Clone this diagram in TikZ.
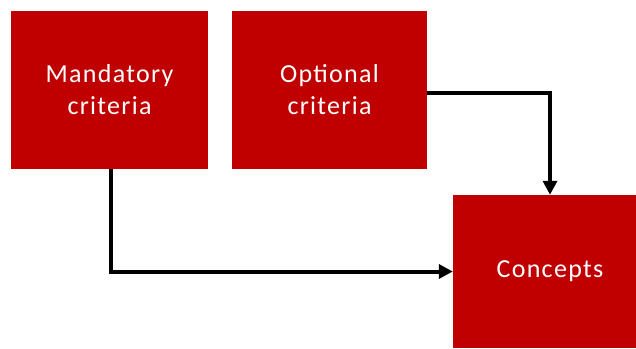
\documentclass[tikz,border=0pt]{standalone}
\usepackage{fontspec}
\setmainfont{Carlito}
\newfontfamily\boxfont[LetterSpace=5]{Carlito}
\usepackage{tikz}
\usetikzlibrary{arrows.meta, positioning}
\definecolor{boxred}{RGB}{192,0,0}

\begin{document}
\begin{tikzpicture}[x=1pt, y=-1pt,
    box/.style={fill=boxred, text=white, align=center, inner sep=0pt,
      font=\boxfont\fontsize{26}{32}\selectfont},
    conn/.style={line width=4pt, -{Triangle[width=14pt,length=14pt]}}]
        \useasboundingbox (0,0) rectangle (636,348);

        % Criteria boxes
        \node[box, minimum width=197pt, minimum height=158pt] (mandatory) at (109.5,90) {Mandatory\\criteria};
        \node[box, minimum width=195pt, minimum height=158pt] (optional) at (329.5,90) {Optional\\criteria};

        % Result box (runs past the right edge)
        \node[box, minimum width=194pt, minimum height=153pt] (concepts) at (550,271.5) {Concepts};

        % Connectors
        \draw[conn] ([xshift=1.5pt]mandatory.south) |- (concepts.west);
        \draw[conn] ([yshift=-3pt]optional.east) -| (concepts.north);
    \end{tikzpicture}
\end{document}
